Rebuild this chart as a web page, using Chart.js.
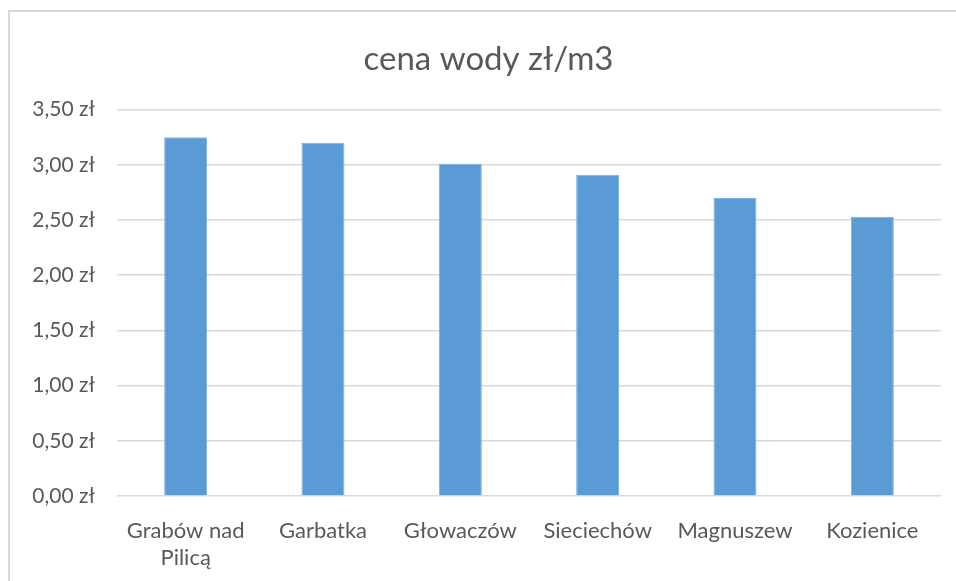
<!DOCTYPE html>
<html>
<head>
<meta charset="utf-8">
<script src="https://cdn.jsdelivr.net/npm/chart.js@4.4.0/dist/chart.umd.min.js"></script>
<style>
  html, body { margin: 0; padding: 0; background: #fff; overflow: hidden; }
  #wrap { position: relative; width: 956px; height: 581px; }
  #frame {
    position: absolute; left: 8px; top: 10px; width: 1000px; height: 1000px;
    border: 2px solid #d9d9d9; box-sizing: border-box; pointer-events: none;
  }
  canvas { position: absolute; left: 0; top: 0; }
</style>
</head>
<body>
<div id="wrap">
  <div id="frame"></div>
  <canvas id="waterChart" width="956" height="581"></canvas>
</div>
<script>
//Data
const towns = [['Grabów nad', 'Pilicą'], 'Garbatka', 'Głowaczów', 'Sieciechów', 'Magnuszew', 'Kozienice'];
const prices = [3.25, 3.2, 3.01, 2.91, 2.7, 2.53];
const yTicks = [0, 0.5, 1, 1.5, 2, 2.5, 3, 3.5];

//Colors (Excel defaults)
const barColor = '#5b9bd5';
const textColor = '#595959';
const gridColor = '#d9d9d9';

Chart.defaults.font.family = `Lato, 'Open Sans', sans-serif`;
Chart.defaults.color = textColor;

//polish money format: 3,50 zł
const zl = (v) => v.toFixed(2).replace('.', ',') + ' zł';

//The chart frame is wider than the window, so the title sits a bit right of the plot middle
const titleShift = {
  id: 'titleShift',
  afterLayout(chart) {
    chart.titleBlock.left += 8;
    chart.titleBlock.right += 8;
  },
};

new Chart('waterChart', {
  type: 'bar',
  data: {
    labels: towns,
    datasets: [
      {
        data: prices,
        backgroundColor: barColor,
        borderColor: '#7eb0de',
        borderWidth: 1,
        categoryPercentage: 1,
        barPercentage: 0.313,
      },
    ],
  },
  plugins: [titleShift],
  options: {
    responsive: false,
    animation: false,
    layout: { padding: { left: 20, right: 15, top: 10, bottom: 0 } },
    plugins: {
      legend: { display: false },
      tooltip: { enabled: false },
      title: {
        display: true,
        text: 'cena wody zł/m3',
        color: textColor,
        font: { size: 33, weight: 'normal' },
        padding: { top: 30, bottom: 30 },
      },
    },
    scales: {
      x: {
        grid: { display: false },
        border: { display: false },
        ticks: {
          font: { size: 22 },
          lineHeight: 1.27,
          padding: 14,
          maxRotation: 0,
          autoSkip: false,
        },
        afterFit: (s) => { s.height = 85; },
      },
      y: {
        min: 0,
        max: 3.5,
        afterBuildTicks: (s) => { s.ticks = yTicks.map((v) => ({ value: v })); },
        grid: { color: gridColor, lineWidth: 1.5, drawTicks: false },
        border: { display: false },
        ticks: {
          font: { size: 21 },
          padding: 22,
          callback: (v) => zl(v),
        },
        afterFit: (s) => { s.width = 97; },
      },
    },
  },
});
</script>
</body>
</html>
